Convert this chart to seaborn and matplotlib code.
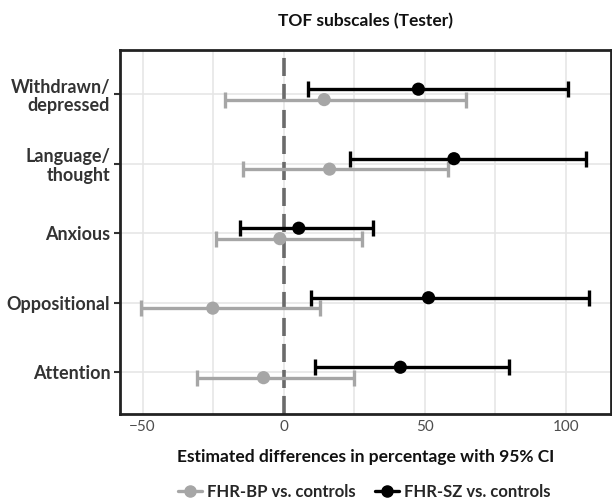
import matplotlib
matplotlib.use("Agg")
import matplotlib.pyplot as plt
from matplotlib.lines import Line2D
from matplotlib.ticker import MultipleLocator
from matplotlib.transforms import ScaledTranslation
import numpy as np
import pandas as pd
import seaborn as sns

subscales = ["Withdrawn/\ndepressed", "Language/\nthought", "Anxious", "Oppositional", "Attention"]

bp_est = [14.4, 16.3, -1.3, -25.1, -7.1]
bp_low = [-20.7, -14.5, -23.9, -50.5, -30.7]
bp_high = [64.5, 58.4, 27.9, 12.8, 24.9]

sz_est = [47.8, 60.4, 5.4, 51.4, 41.4]
sz_low = [8.8, 23.6, -15.5, 9.8, 11.0]
sz_high = [101.0, 107.3, 31.7, 108.2, 79.9]

groups = ["FHR-BP vs. controls", "FHR-SZ vs. controls"]
colors = {"FHR-BP vs. controls": "#a6a6a6", "FHR-SZ vs. controls": "#000000"}

sns.set_theme(style="white")
plt.rcParams["font.family"] = ["Lato", "DejaVu Sans"]

rows = []
for i, name in enumerate(subscales):
    rows.append(dict(subscale=name, group=groups[0], est=bp_est[i], low=bp_low[i], high=bp_high[i], y=i + 0.075))
    rows.append(dict(subscale=name, group=groups[1], est=sz_est[i], low=sz_low[i], high=sz_high[i], y=i - 0.075))
df = pd.DataFrame(rows)

fig, ax = plt.subplots(figsize=(6.12, 4.99), dpi=100)
fig.subplots_adjust(left=0.196, right=0.998, top=0.9, bottom=0.17)

# grid
ax.xaxis.set_major_locator(MultipleLocator(50))
ax.xaxis.set_minor_locator(MultipleLocator(25))
ax.grid(True, which="both", axis="x", color="#e6e6e6", lw=1.2)
ax.grid(True, which="major", axis="y", color="#e6e6e6", lw=1.2)
ax.set_axisbelow(True)

ax.axvline(0, color="#6b6b6b", lw=2.6, ls=(0, (5, 2.2)), zorder=2)

for g in groups:
    d = df[df.group == g]
    ax.errorbar(d.est, d.y, xerr=[d.est - d.low, d.high - d.est], fmt="none",
                ecolor=colors[g], elinewidth=2.4, capsize=6, capthick=2.4, zorder=3)

sns.scatterplot(data=df, x="est", y="y", hue="group", palette=colors, s=90,
                edgecolor="none", legend=False, ax=ax, zorder=4)

ax.set_yticks(range(len(subscales)))
ax.set_yticklabels(subscales, fontsize=13, fontweight="bold", color="#333333", linespacing=1.1)
# labels sit a little above their ticks in the original
shift = ScaledTranslation(0, 4 / 72, fig.dpi_scale_trans)
for lab in ax.get_yticklabels():
    lab.set_transform(lab.get_transform() + shift)
ax.set_ylim(len(subscales) - 0.4, -0.64)
ax.set_xlim(-58, 116)
ax.tick_params(axis="x", labelsize=11, colors="#4d4d4d", length=0, pad=4)
ax.tick_params(axis="y", left=True, length=4, width=1.5, color="#333333", pad=3)
ax.tick_params(axis="x", which="major", bottom=False)

for s in ax.spines.values():
    s.set_color("#222222")
    s.set_linewidth(2)

ax.set_xlabel("Estimated differences in percentage with 95% CI", fontsize=12.5,
              fontweight="bold", color="#111111", labelpad=11)
ax.set_ylabel("")
ax.set_title("TOF subscales (Tester)", fontsize=12.5, fontweight="bold", color="#111111", pad=17)

handles = [Line2D([0], [0], color=colors[g], lw=2.4, marker="o", markersize=8) for g in groups]
fig.legend(handles, groups, loc="lower center", bbox_to_anchor=(0.595, -0.032), ncol=2,
           frameon=False, handlelength=1.4, handletextpad=0.3, columnspacing=1.2,
           prop={"weight": "bold", "size": 12})

fig.savefig("out.png", dpi=100)
